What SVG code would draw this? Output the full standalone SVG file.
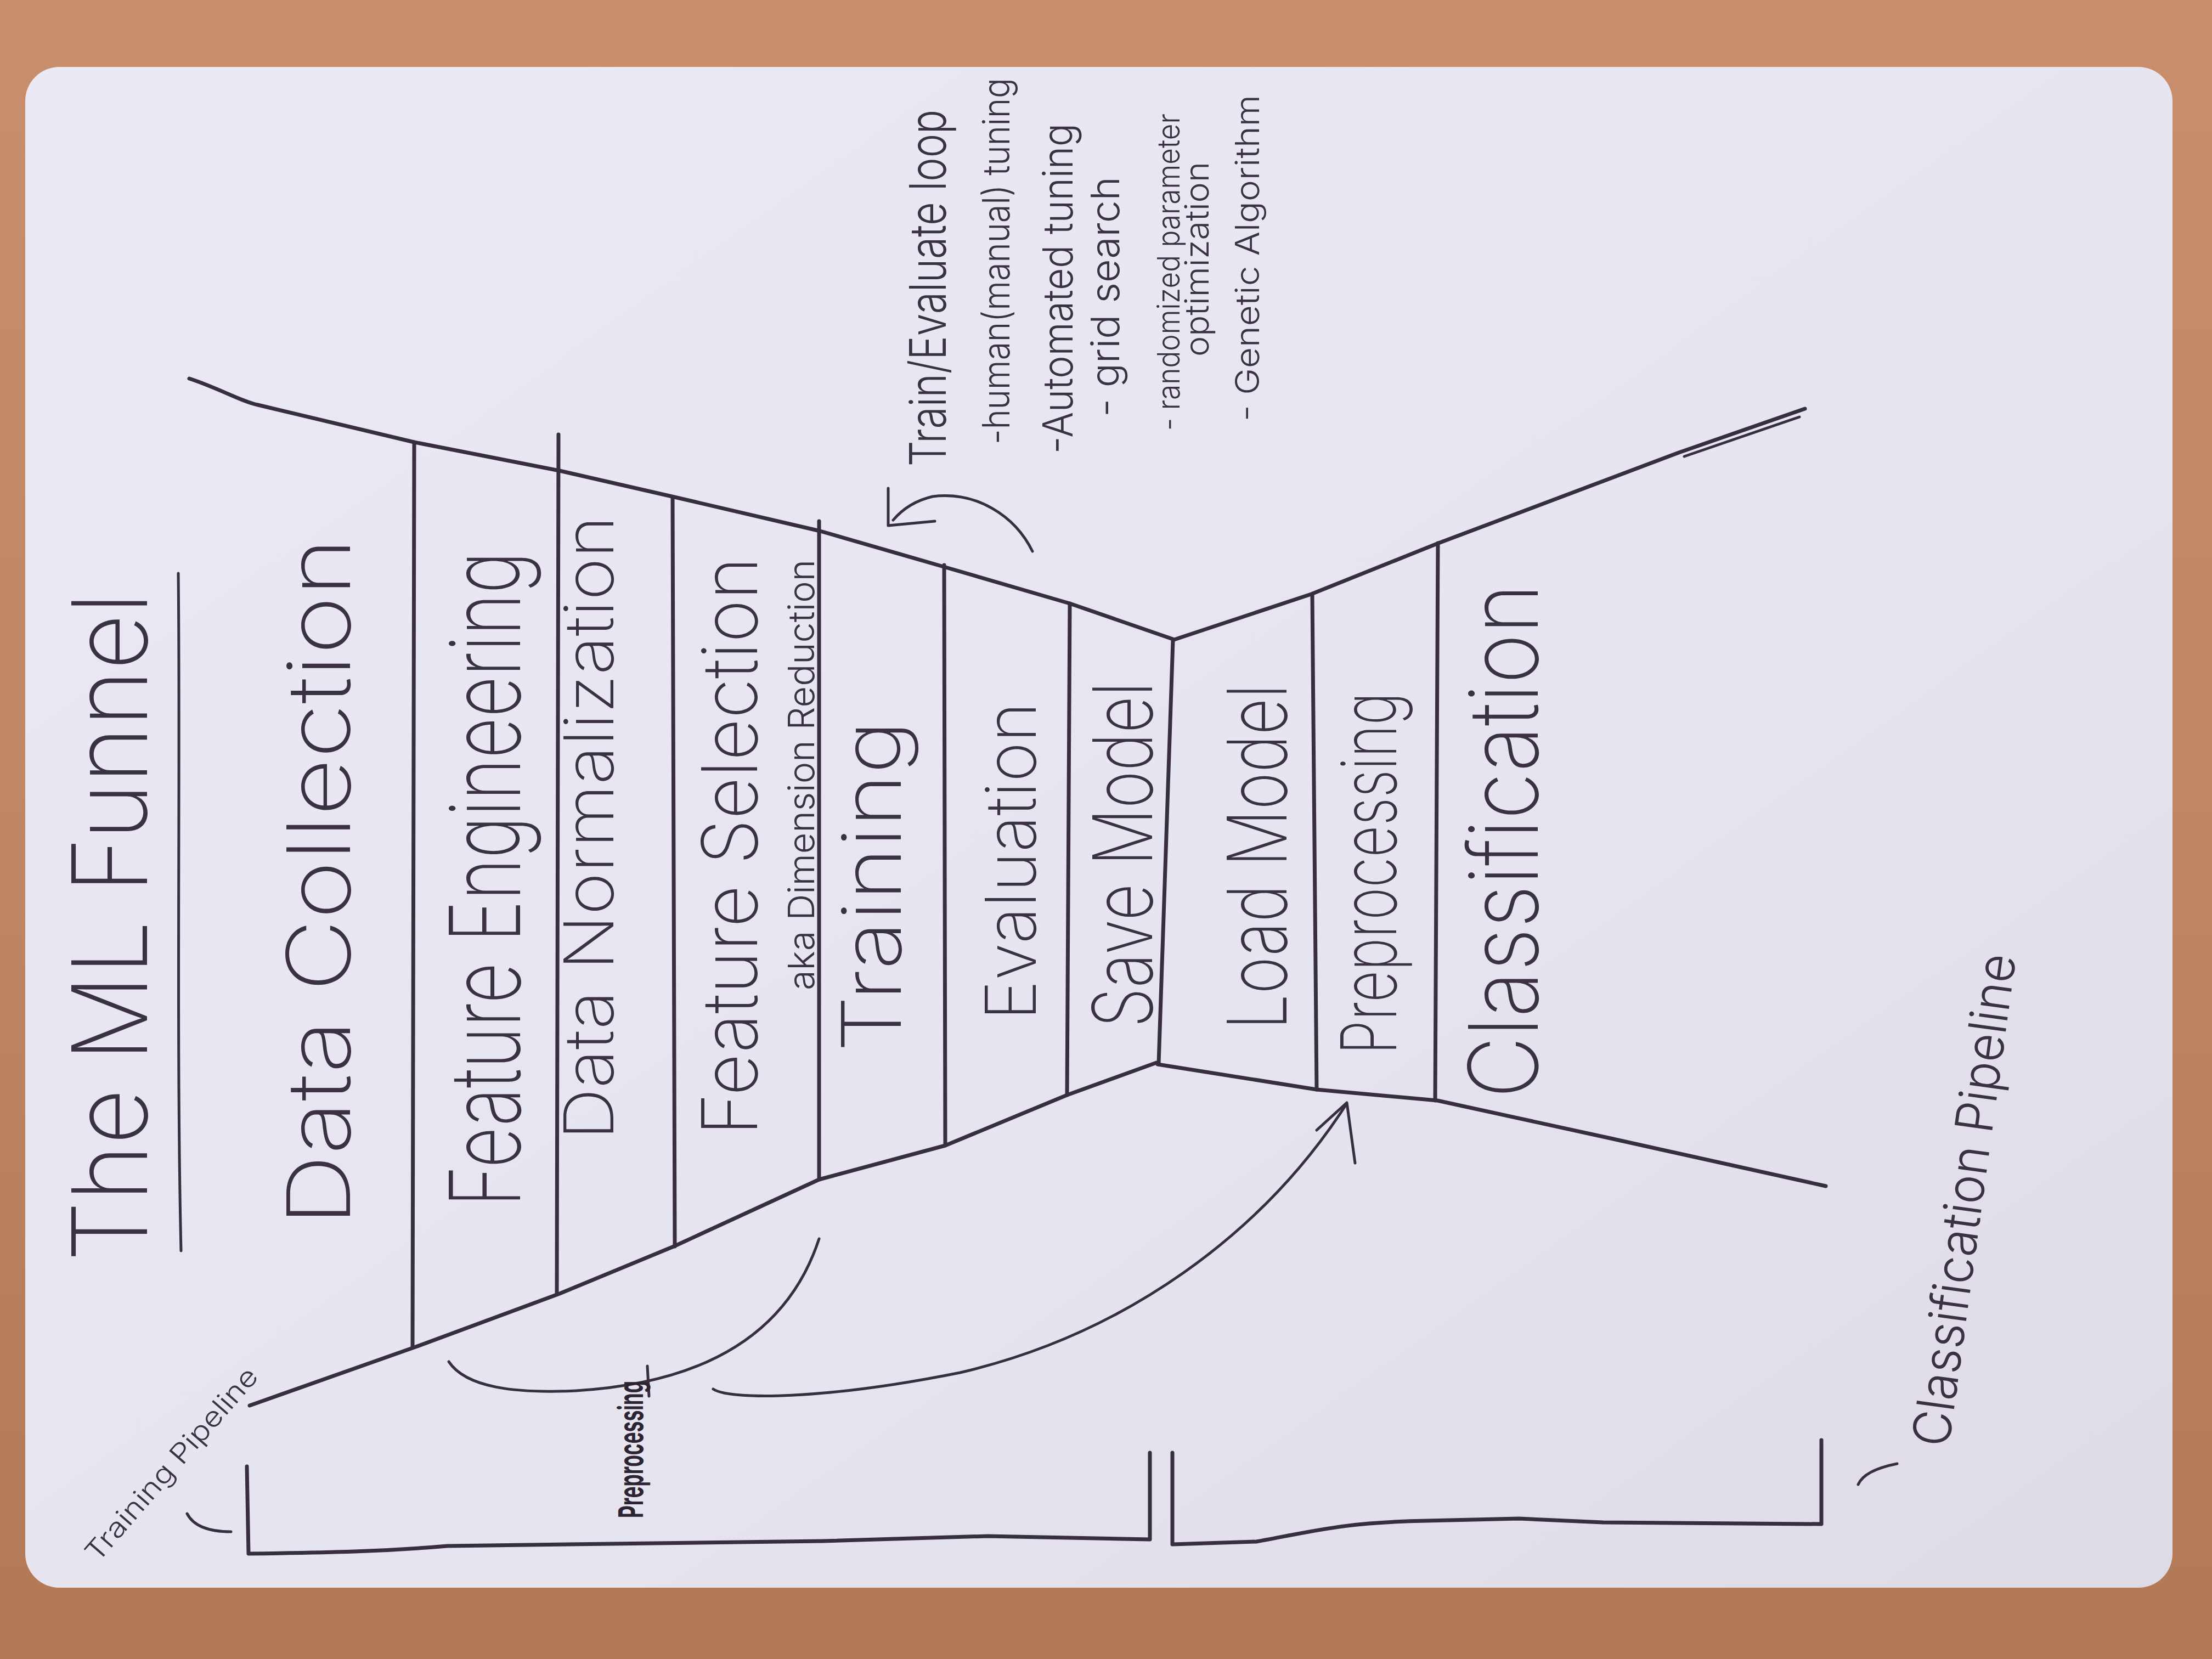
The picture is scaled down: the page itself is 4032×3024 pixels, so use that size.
<svg xmlns="http://www.w3.org/2000/svg" width="4032" height="3024" viewBox="0 0 4032 3024">
  <defs>
    <linearGradient id="wood" x1="0" y1="0" x2="0" y2="1">
      <stop offset="0" stop-color="#c98f6c"/>
      <stop offset="0.5" stop-color="#c08665"/>
      <stop offset="1" stop-color="#b27956"/>
    </linearGradient>
    <linearGradient id="paper" x1="0" y1="0" x2="1" y2="1">
      <stop offset="0" stop-color="#ebe9f3"/>
      <stop offset="0.6" stop-color="#e6e4ef"/>
      <stop offset="1" stop-color="#dedbe7"/>
    </linearGradient>
    <style>
      .ink { fill: none; stroke: #372e3f; stroke-width: 7; stroke-linecap: round; stroke-linejoin: round; }
      .thin { stroke-width: 5; }
      .lbl { fill: #3a3142; font-family: Inter, "Liberation Sans", "DejaVu Sans", sans-serif; font-weight: 200; }
      .note { font-weight: 300; }
      .bold { font-weight: 700; fill: #2c2431; }
    </style>
  </defs>

  <!-- table and sheet -->
  <rect x="0" y="0" width="4032" height="3024" fill="url(#wood)"/>
  <rect x="46" y="122" width="3914" height="2772" rx="62" fill="url(#paper)"/>

  <!-- title -->
  <g id="title">
    <text class="lbl" transform="translate(268,2300) rotate(-90)" font-size="190" textLength="1220" lengthAdjust="spacingAndGlyphs">The ML Funnel</text>
    <path class="ink thin" d="M325,1045 C329,1400 321,1900 330,2280"/>
  </g>

  <!-- funnel outline and stage dividers -->
  <g id="funnel">
    <path class="ink" d="M345,690 C400,708 440,732 470,738 L755,806 L1020,858 L1225,905 L1495,968 L1720,1033 L1950,1100 L2138,1165"/>
    <path class="ink" d="M2140,1166 L2390,1083 L2622,990 L3060,825 L3290,745"/>
    <path class="ink thin" d="M3070,832 L3280,760"/>
    <path class="ink" d="M455,2562 L755,2456 L1020,2358 L1228,2272 L1493,2150 L1723,2088 L1945,1996 L2108,1937"/>
    <path class="ink" d="M2110,1940 L2400,1986 L2620,2006 L2936,2075 L3328,2162"/>
    <path class="ink" d="M2138,1168 L2112,1938"/>
    <path class="ink" d="M755,806 L752,2456"/>
    <path class="ink" d="M1018,792 L1015,2358"/>
    <path class="ink" d="M1226,906 L1230,2272"/>
    <path class="ink" d="M1493,950 L1493,2150"/>
    <path class="ink" d="M1721,1030 L1723,2088"/>
    <path class="ink" d="M1950,1100 L1945,1996"/>
    <path class="ink" d="M2392,1084 L2400,1986"/>
    <path class="ink" d="M2621,990 L2616,2006"/>
  </g>

  <!-- training stages -->
  <g id="data-collection">
    <text class="lbl" transform="translate(638,2235) rotate(-90)" font-size="160" textLength="1255" lengthAdjust="spacingAndGlyphs">Data Collection</text>
  </g>
  <g id="feature-engineering">
    <text class="lbl" transform="translate(948,2200) rotate(-90)" font-size="178" textLength="1195" lengthAdjust="spacingAndGlyphs">Feature Engineering</text>
  </g>
  <g id="data-normalization">
    <text class="lbl" transform="translate(1118,2078) rotate(-90)" font-size="125" textLength="1138" lengthAdjust="spacingAndGlyphs">Data Normalization</text>
  </g>
  <g id="feature-selection">
    <text class="lbl" transform="translate(1380,2070) rotate(-90)" font-size="140" textLength="1055" lengthAdjust="spacingAndGlyphs">Feature Selection</text>
    <text class="lbl note" transform="translate(1484,1805) rotate(-90)" font-size="66" textLength="785" lengthAdjust="spacingAndGlyphs">aka Dimension Reduction</text>
  </g>
  <g id="training">
    <text class="lbl" transform="translate(1642,1918) rotate(-90)" font-size="150" textLength="605" lengthAdjust="spacingAndGlyphs">Training</text>
  </g>
  <g id="evaluation">
    <text class="lbl" transform="translate(1888,1860) rotate(-90)" font-size="128" textLength="580" lengthAdjust="spacingAndGlyphs">Evaluation</text>
  </g>
  <g id="save-model">
    <text class="lbl" transform="translate(2100,1873) rotate(-90)" font-size="150" textLength="630" lengthAdjust="spacingAndGlyphs">Save Model</text>
  </g>

  <!-- classification stages -->
  <g id="load-model">
    <text class="lbl" transform="translate(2345,1877) rotate(-90)" font-size="150" textLength="630" lengthAdjust="spacingAndGlyphs">Load Model</text>
  </g>
  <g id="preprocessing">
    <text class="lbl" transform="translate(2545,1922) rotate(-90)" font-size="140" textLength="660" lengthAdjust="spacingAndGlyphs">Preprocessing</text>
  </g>
  <g id="classification">
    <text class="lbl" transform="translate(2803,2002) rotate(-90)" font-size="175" textLength="938" lengthAdjust="spacingAndGlyphs">Classification</text>
  </g>

  <!-- tuning notes -->
  <g id="tuning-notes">
    <text class="lbl note" transform="translate(1724,850) rotate(-90)" font-size="92" textLength="650" lengthAdjust="spacingAndGlyphs">Train/Evaluate loop</text>
    <text class="lbl note" transform="translate(1840,810) rotate(-90)" font-size="68" textLength="668" lengthAdjust="spacingAndGlyphs">-human(manual) tuning</text>
    <text class="lbl note" transform="translate(1955,827) rotate(-90)" font-size="76" textLength="602" lengthAdjust="spacingAndGlyphs">-Automated tuning</text>
    <text class="lbl note" transform="translate(2040,760) rotate(-90)" font-size="72" textLength="438" lengthAdjust="spacingAndGlyphs">- grid search</text>
    <text class="lbl note" transform="translate(2150,785) rotate(-90)" font-size="56" textLength="578" lengthAdjust="spacingAndGlyphs">- randomized parameter</text>
    <text class="lbl note" transform="translate(2203,650) rotate(-90)" font-size="60" textLength="355" lengthAdjust="spacingAndGlyphs">optimization</text>
    <text class="lbl note" transform="translate(2295,768) rotate(-90)" font-size="60" textLength="595" lengthAdjust="spacingAndGlyphs">- Genetic Algorithm</text>
  </g>

  <!-- pipeline brackets and labels -->
  <g id="training-pipeline">
    <path class="ink" d="M450,2673 L453,2832 C600,2830 700,2828 815,2818 L1500,2809 L1800,2800 L2096,2806 L2096,2648"/>
    <path class="ink thin" d="M341,2759 Q358,2792 421,2792"/>
    <text class="lbl note" transform="translate(178,2850) rotate(-49)" font-size="50" textLength="450" lengthAdjust="spacingAndGlyphs">Training Pipeline</text>
  </g>
  <g id="classification-pipeline">
    <path class="ink" d="M2137,2648 L2137,2815 L2290,2810 C2400,2790 2450,2775 2600,2772 L2769,2768 L2922,2775 L3320,2778 L3320,2625"/>
    <path class="ink thin" d="M3458,2668 Q3398,2680 3387,2706"/>
    <text class="lbl note" transform="translate(3552,2640) rotate(-82.2)" font-size="95" textLength="905" lengthAdjust="spacingAndGlyphs">Classification Pipeline</text>
  </g>

  <!-- arrows -->
  <g id="connectors">
    <!-- train/evaluate loop -->
    <path class="ink thin" d="M1882,1005 C1850,940 1780,895 1700,905 C1670,912 1645,928 1628,948"/>
    <path class="ink thin" d="M1619,890 L1619,958 L1704,950"/>
    <!-- preprocessing reused at classification time -->
    <path class="ink thin" d="M1493,2258 C1440,2420 1300,2520 1050,2535 C940,2540 850,2530 818,2482"/>
    <path class="ink thin" d="M1300,2532 C1330,2552 1500,2552 1750,2502 C2050,2432 2300,2250 2452,2016"/>
    <path class="ink thin" d="M2400,2060 L2455,2010 L2470,2120"/>
    <path class="ink thin" d="M1180,2490 L1183,2545"/>
    <text class="lbl bold" transform="translate(1172,2767) rotate(-90)" font-size="62" textLength="250" lengthAdjust="spacingAndGlyphs">Preprocessing</text>
  </g>
</svg>
